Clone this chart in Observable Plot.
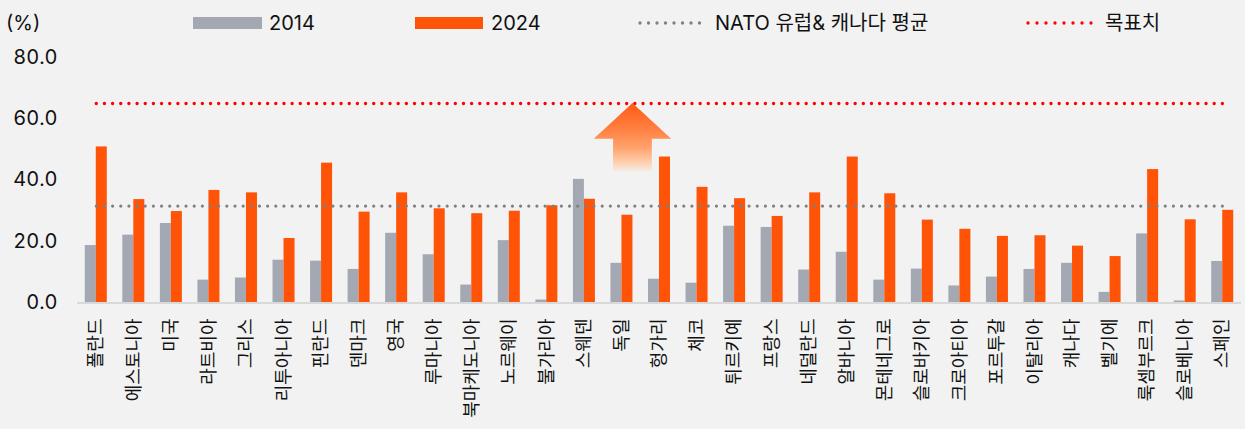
<!DOCTYPE html>
<html>
<head>
<meta charset="utf-8">
<script src="https://cdn.jsdelivr.net/npm/d3@7"></script>
<script src="https://cdn.jsdelivr.net/npm/@observablehq/plot@0.6"></script>
<style>
  html, body { margin: 0; padding: 0; background: #f2f2f2; }
  #wrap { position: relative; width: 1245px; height: 429px; background: #f2f2f2;
          font-family: Inter, "Noto Sans CJK KR", sans-serif; color: #111; }
  .lg { position: absolute; font-size: 20px; line-height: 22px; top: 12px; white-space: nowrap; }
  .sw { position: absolute; top: 17px; height: 12px; }
  .dl { position: absolute; top: 17px; height: 12px; }
  #chart { position: absolute; left: 0; top: 0; }
</style>
</head>
<body>
<div id="wrap">
  <div id="chart"></div>
  <div class="lg" style="left:6px">(%)</div>
  <div class="sw" style="left:193px;width:69px;background:#a3a8b2"></div>
  <div class="lg" style="left:269px">2014</div>
  <div class="sw" style="left:415px;width:68px;background:#ff5308"></div>
  <div class="lg" style="left:491px">2024</div>
  <svg class="dl" style="left:636px" width="76" height="12"><line x1="4" x2="72" y1="6" y2="6" stroke="#808080" stroke-width="3.3" stroke-linecap="round" stroke-dasharray="0 8.5"/></svg>
  <div class="lg" style="left:715px">NATO 유럽&amp; 캐나다 평균</div>
  <svg class="dl" style="left:1024px" width="80" height="12"><line x1="4" x2="76" y1="6" y2="6" stroke="#ff0000" stroke-width="3.3" stroke-linecap="round" stroke-dasharray="0 9"/></svg>
  <div class="lg" style="left:1105px">목표치</div>
</div>
<script>
const countries = ["폴란드","에스토니아","미국","라트비아","그리스","리투아니아","핀란드","덴마크","영국","루마니아","북마케도니아","노르웨이","불가리아","스웨덴","독일","헝가리","체코","튀르키예","프랑스","네덜란드","알바니아","몬테네그로","슬로바키아","크로아티아","포르투갈","이탈리아","캐나다","벨기에","룩셈부르크","슬로베니아","스페인"];
const values2014 = [18.6,22.0,25.8,7.3,8.0,13.8,13.5,10.8,22.6,15.6,5.7,20.2,0.8,40.2,12.8,7.6,6.3,24.9,24.5,10.6,16.4,7.3,10.9,5.4,8.3,10.8,12.8,3.3,22.4,0.5,13.4];
const values2024 = [50.8,33.6,29.7,36.6,35.8,20.9,45.5,29.5,35.8,30.6,29.0,29.8,31.6,33.7,28.5,47.5,37.6,33.9,28.1,35.8,47.5,35.5,26.9,23.9,21.6,21.8,18.4,15.0,43.4,27.0,30.1];
const natoAverage = 31.5;
const targetValue = 65;
const yTicks = [0, 20, 40, 60, 80];
const arrowCountry = "독일";
const arrowHeadBase = 53.3;
const arrowBottom = 42.2;

const gray = "#a3a8b2", orange = "#ff5308";

function arrowMark(index, scales) {
  const x = scales.x, y = scales.y;
  const bw = x.bandwidth ? x.bandwidth() : 22;
  const tx = x(arrowCountry) + bw;
  const ty = y(targetValue), hy = y(arrowHeadBase), by = y(arrowBottom);
  const g = d3.create("svg:g");
  const grad = g.append("defs").append("linearGradient")
    .attr("id", "arrowGrad").attr("gradientUnits", "userSpaceOnUse")
    .attr("x1", 0).attr("x2", 0).attr("y1", ty).attr("y2", by);
  [[0, "#ff5a14", 1], [0.4, "#ff8344", 1], [0.65, "#ffa46f", 1], [0.85, "#ffcfae", 1], [1, "#f2f2f2", 1]]
    .forEach(([o, c, op]) => grad.append("stop").attr("offset", o).attr("stop-color", c).attr("stop-opacity", op));
  const hw = 38.7, sw = 19.4;
  g.append("path")
    .attr("d", `M${tx},${ty}L${tx+hw},${hy}L${tx+sw},${hy}L${tx+sw},${by}L${tx-sw},${by}L${tx-sw},${hy}L${tx-hw},${hy}Z`)
    .attr("fill", "url(#arrowGrad)");
  return g.node();
}

const chart = Plot.plot({
  width: 1245,
  height: 429,
  marginTop: 57,
  marginBottom: 127,
  marginLeft: 77,
  marginRight: 4,
  style: { background: "#f2f2f2", fontFamily: 'Inter, "Noto Sans CJK KR", sans-serif', color: "#111", overflow: "visible" },
  x: { domain: countries, paddingInner: 0.414, paddingOuter: 0.207, round: false, label: null },
  y: { domain: [0, 80], label: null },
  marks: [
    Plot.barY(countries, { x: d => d, y: (d, i) => values2014[i], fill: gray, insetRight: 11 }),
    Plot.barY(countries, { x: d => d, y: (d, i) => values2024[i], fill: orange, insetLeft: 11 }),
    Plot.ruleY([0], { stroke: "#d9d9d9", strokeWidth: 2, dy: 0.5 }),
    Plot.lineY(countries, { x: d => d, y: () => natoAverage, stroke: "#808080", strokeWidth: 3.2, strokeLinecap: "round", strokeDasharray: "0 8.16" }),
    Plot.lineY(countries, { x: d => d, y: () => targetValue, stroke: "#ff0000", strokeWidth: 3.4, strokeLinecap: "round", strokeDasharray: "0 8.16" }),
    arrowMark,
    Plot.axisY({ ticks: yTicks, tickFormat: d => d.toFixed(1), tickSize: 0, tickPadding: 20, fontSize: 20, label: null }),
    Plot.axisX({ tickRotate: -90, tickSize: 0, tickPadding: 16, fontSize: 18, label: null })
  ]
});
document.getElementById("chart").appendChild(chart);
</script>
</body>
</html>
